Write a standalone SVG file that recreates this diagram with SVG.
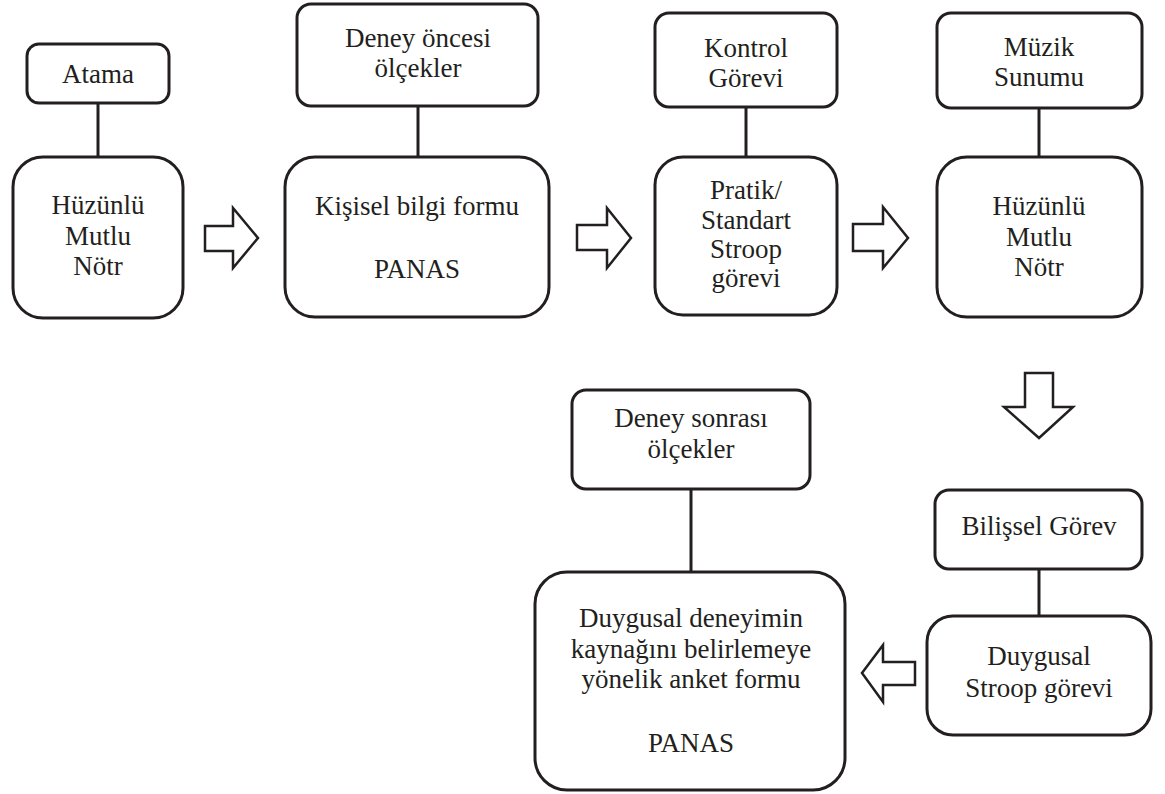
<svg xmlns="http://www.w3.org/2000/svg" width="1165" height="794" viewBox="0 0 1165 794" font-family="'Liberation Serif', 'Times New Roman', 'DejaVu Serif', serif">
<style>
.box{fill:#fff;stroke:#231f20;stroke-width:3}
.arr{fill:#fff;stroke:#231f20;stroke-width:2.5;stroke-linejoin:miter}
.ln{stroke:#231f20;stroke-width:3;fill:none}
.t{font-size:27px;fill:#231f20;text-anchor:middle}
</style>
<rect width="1165" height="794" fill="#fff"/>
<g id="connectors">
<line class="ln" x1="98" y1="103" x2="98" y2="157"/>
<line class="ln" x1="418" y1="106" x2="418" y2="157"/>
<line class="ln" x1="746" y1="107" x2="746" y2="157"/>
<line class="ln" x1="1039" y1="108" x2="1039" y2="157"/>
<line class="ln" x1="1039" y1="569" x2="1039" y2="616"/>
<line class="ln" x1="691" y1="489" x2="691" y2="572"/>
<polygon class="arr" points="205,226 233,226 233,208 258,238 233,268 233,251 205,251"/>
<polygon class="arr" points="577,225 607,225 607,208 631,238 607,268 607,250 577,250"/>
<polygon class="arr" points="853,224 883,224 883,207 908,238 883,268 883,251 853,251"/>
<polygon class="arr" points="1025,373 1053,373 1053,407 1073,407 1039,438 1004,407 1025,407"/>
<polygon class="arr" points="915,662 883,662 883,645 862,673 883,702 883,685 915,685"/>
</g>
<g id="atama">
<rect class="box" x="27" y="44" width="142" height="59" rx="12"/>
<text class="t" x="98" y="83">Atama</text>
</g>
<g id="grup1">
<rect class="box" x="13" y="157" width="170" height="161" rx="30"/>
<text class="t" x="98" y="214">Hüzünlü</text>
<text class="t" x="98" y="245">Mutlu</text>
<text class="t" x="98" y="275">Nötr</text>
</g>
<g id="deney-oncesi">
<rect class="box" x="297" y="4" width="241" height="102" rx="14"/>
<text class="t" x="418" y="47">Deney öncesi</text>
<text class="t" x="418" y="77">ölçekler</text>
</g>
<g id="kisisel">
<rect class="box" x="285" y="157" width="264" height="160" rx="30"/>
<text class="t" x="417" y="215">Kişisel bilgi formu</text>
<text class="t" x="417" y="278">PANAS</text>
</g>
<g id="kontrol">
<rect class="box" x="655" y="13" width="182" height="94" rx="14"/>
<text class="t" x="746" y="57">Kontrol</text>
<text class="t" x="746" y="87">Görevi</text>
</g>
<g id="pratik">
<rect class="box" x="655" y="157" width="182" height="158" rx="28"/>
<text class="t" x="746" y="199">Pratik/</text>
<text class="t" x="746" y="229">Standart</text>
<text class="t" x="746" y="258">Stroop</text>
<text class="t" x="746" y="287">görevi</text>
</g>
<g id="muzik">
<rect class="box" x="937" y="13" width="205" height="95" rx="14"/>
<text class="t" x="1039" y="56">Müzik</text>
<text class="t" x="1039" y="86">Sunumu</text>
</g>
<g id="grup2">
<rect class="box" x="937" y="157" width="205" height="160" rx="30"/>
<text class="t" x="1039" y="215">Hüzünlü</text>
<text class="t" x="1039" y="246">Mutlu</text>
<text class="t" x="1039" y="276">Nötr</text>
</g>
<g id="bilissel">
<rect class="box" x="935" y="490" width="207" height="79" rx="14"/>
<text class="t" x="1039" y="535">Bilişsel Görev</text>
</g>
<g id="duygusal-stroop">
<rect class="box" x="927" y="616" width="224" height="119" rx="26"/>
<text class="t" x="1039" y="665">Duygusal</text>
<text class="t" x="1039" y="697">Stroop görevi</text>
</g>
<g id="deney-sonrasi">
<rect class="box" x="572" y="390" width="238" height="99" rx="14"/>
<text class="t" x="691" y="427">Deney sonrası</text>
<text class="t" x="691" y="458">ölçekler</text>
</g>
<g id="anket">
<rect class="box" x="535" y="572" width="310" height="218" rx="32"/>
<text class="t" x="691" y="627">Duygusal deneyimin</text>
<text class="t" x="691" y="658">kaynağını belirlemeye</text>
<text class="t" x="691" y="688">yönelik anket formu</text>
<text class="t" x="691" y="752">PANAS</text>
</g>
</svg>
